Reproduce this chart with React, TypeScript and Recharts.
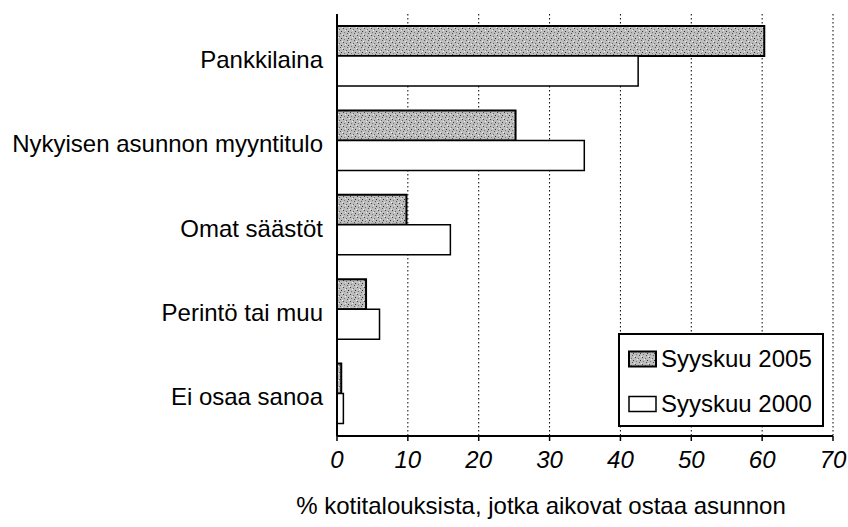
import React from "react";
import {
  BarChart,
  Bar,
  XAxis,
  YAxis,
  CartesianGrid,
  Legend,
} from "recharts";

const categories = [
  "Pankkilaina",
  "Nykyisen asunnon myyntitulo",
  "Omat säästöt",
  "Perintö tai muu",
  "Ei osaa sanoa",
];
const sep2005 = [60.3, 25.2, 9.8, 4.1, 0.6];
const sep2000 = [42.5, 34.9, 16.0, 6.0, 0.9];
const xTicks = [0, 10, 20, 30, 40, 50, 60, 70];
const seriesNames = ["Syyskuu 2005", "Syyskuu 2000"];

const data = categories.map((name, i) => ({
  name,
  s2005: sep2005[i],
  s2000: sep2000[i],
}));

const font = '"Liberation Sans", Arial, sans-serif';

const LegendBox = () => (
  <div
    style={{
      width: 202,
      height: 90,
      border: "2px solid #000",
      background: "#fff",
      fontFamily: font,
      fontSize: 24,
      color: "#000",
      position: "relative",
    }}
  >
    {seriesNames.map((s, i) => (
      <div
        key={s}
        style={{
          position: "absolute",
          left: 8,
          top: i === 0 ? 10 : 55,
          display: "flex",
          alignItems: "center",
          lineHeight: "28px",
        }}
      >
        <svg width={30} height={18} style={{ marginRight: 3 }}>
          <rect
            x={1}
            y={1.5}
            width={27}
            height={15}
            fill={i === 0 ? "url(#speckle)" : "#fff"}
            stroke="#000"
            strokeWidth={i === 0 ? 2 : 1.5}
          />
        </svg>
        <span>{s}</span>
      </div>
    ))}
  </div>
);

export default function App() {
  return (
    <div style={{ position: "absolute", left: 0, top: 0, background: "#fff" }}>
      <BarChart
        width={848}
        height={527}
        data={data}
        layout="vertical"
        margin={{ top: 14, right: 15, left: 0, bottom: 0 }}
        barGap={0}
        barSize={30}
      >
        <defs>
          <pattern id="speckle" width={7} height={7} patternUnits="userSpaceOnUse">
            <rect width={7} height={7} fill="#bdbdbd" />
            <rect x={0} y={0} width={1} height={1} fill="#444" />
            <rect x={3} y={1} width={1} height={1} fill="#666" />
            <rect x={5} y={3} width={1} height={1} fill="#333" />
            <rect x={1} y={4} width={1} height={1} fill="#777" />
            <rect x={4} y={5} width={1} height={1} fill="#555" />
            <rect x={6} y={6} width={1} height={1} fill="#eee" />
            <rect x={2} y={2} width={1} height={1} fill="#eee" />
          </pattern>
        </defs>
        <CartesianGrid
          horizontal={false}
          stroke="#000"
          strokeDasharray="1.5 2.5"
          strokeWidth={1}
        />
        <XAxis
          type="number"
          domain={[0, 70]}
          ticks={xTicks}
          height={91}
          axisLine={{ stroke: "#000", strokeWidth: 2 }}
          tickLine={{ stroke: "#000", strokeWidth: 1.5 }}
          tickSize={5}
          tickMargin={10}
          tick={{
            fill: "#000",
            fontSize: 24,
            fontStyle: "italic",
            fontFamily: font,
          }}
          label={{
            value: "% kotitalouksista, jotka aikovat ostaa asunnon",
            position: "insideBottom",
            offset: 13,
            dx: -44,
            fill: "#000",
            fontSize: 24,
            fontFamily: font,
          }}
        />
        <XAxis
          xAxisId="top"
          orientation="top"
          type="number"
          domain={[0, 70]}
          height={0}
          tick={false}
          tickLine={false}
          axisLine={{ stroke: "#000", strokeWidth: 2 }}
        />
        <YAxis
          type="category"
          dataKey="name"
          width={337}
          axisLine={{ stroke: "#000", strokeWidth: 2 }}
          tickLine={false}
          tickSize={0}
          tickMargin={14}
          tick={{ fill: "#000", fontSize: 24, fontFamily: font, dy: 3 }}
        />
        <YAxis
          yAxisId="right"
          orientation="right"
          type="category"
          dataKey="name"
          width={0}
          tick={false}
          tickLine={false}
          axisLine={{ stroke: "#000", strokeWidth: 2 }}
        />
        <Legend
          layout="vertical"
          align="center"
          verticalAlign="middle"
          content={() => <LegendBox />}
          wrapperStyle={{ left: 618, top: 333, width: 206, height: 94 }}
        />
        <Bar
          dataKey="s2005"
          name={seriesNames[0]}
          fill="url(#speckle)"
          stroke="#000"
          strokeWidth={2}
          isAnimationActive={false}
        />
        <Bar
          dataKey="s2000"
          name={seriesNames[1]}
          fill="#fff"
          stroke="#000"
          strokeWidth={1.5}
          isAnimationActive={false}
        />
      </BarChart>
    </div>
  );
}
